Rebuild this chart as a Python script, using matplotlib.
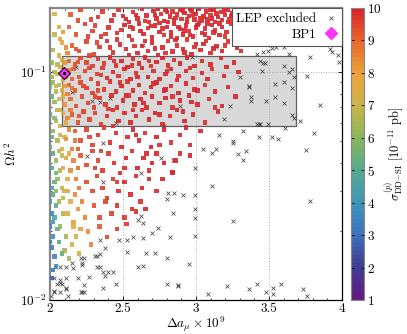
import numpy as np
import matplotlib
matplotlib.use("Agg")
import matplotlib.pyplot as plt
from matplotlib.colors import LinearSegmentedColormap
from matplotlib.patches import Rectangle
from matplotlib.ticker import MultipleLocator, LogLocator, NullFormatter

plt.rcParams['font.family'] = 'serif'
plt.rcParams['font.serif'] = ['cmr10', 'DejaVu Serif']
plt.rcParams['mathtext.fontset'] = 'cm'
plt.rcParams['axes.formatter.use_mathtext'] = True
plt.rcParams['axes.unicode_minus'] = False

# ---------------- data (x = Delta a_mu * 1e9, y = Omega h^2, c = sigma) ----------------
red_top = [
    (2.14,0.179,9.2),(2.21,0.187,9.4),(2.28,0.170,9.6),(2.36,0.184,9.7),(2.42,0.168,9.8),(2.47,0.188,9.8),(2.33,0.174,9.7),(2.50,0.176,9.9),
    (2.54,0.166,9.9),(2.57,0.183,9.8),(2.60,0.172,9.9),(2.63,0.189,9.8),(2.66,0.177,9.9),(2.68,0.166,9.8),(2.71,0.185,9.9),(2.73,0.172,9.9),
    (2.76,0.180,9.8),(2.78,0.167,9.9),(2.79,0.188,9.9),(2.74,0.190,9.9),
    (2.82,0.175,9.9),(2.84,0.184,9.8),(2.85,0.168,9.9),(2.87,0.179,9.9),(2.89,0.188,9.9),(2.90,0.171,9.8),(2.92,0.182,9.9),(2.94,0.166,9.9),
    (2.95,0.176,9.9),(2.97,0.186,9.8),(2.99,0.170,9.9),(3.00,0.180,9.9),(3.02,0.189,9.9),(3.04,0.167,9.8),(3.05,0.175,9.9),(3.07,0.184,9.9),
    (3.08,0.170,9.9),(3.10,0.178,9.8),(3.12,0.188,9.9),(3.13,0.166,9.9),(3.15,0.174,9.9),(3.17,0.183,9.8),(3.18,0.169,9.9),(3.20,0.178,9.9),
    (3.22,0.187,9.9),(3.23,0.171,9.8),(3.25,0.181,9.9),(3.26,0.167,9.9),(2.96,0.190,9.9),(3.11,0.172,9.9),
    (2.13,0.158,9.1),(2.18,0.146,9.3),(2.24,0.162,9.5),(2.29,0.151,9.6),(2.35,0.143,9.7),(2.40,0.157,9.8),(2.46,0.148,9.8),(2.51,0.161,9.9),
    (2.54,0.144,9.9),(2.57,0.155,9.8),(2.61,0.163,9.9),(2.64,0.147,9.9),(2.67,0.156,9.8),(2.70,0.142,9.9),(2.72,0.160,9.9),(2.75,0.150,9.9),
    (2.78,0.145,9.8),(2.80,0.158,9.9),(2.83,0.149,9.9),(2.85,0.162,9.9),(2.87,0.141,9.8),(2.89,0.154,9.9),(2.91,0.146,9.9),(2.93,0.160,9.9),
    (2.95,0.151,9.8),(2.98,0.143,9.9),(3.00,0.157,9.9),(3.02,0.164,9.9),(3.04,0.148,9.8),(3.06,0.155,9.9),(3.09,0.141,9.9),(3.11,0.161,9.9),
    (3.13,0.152,9.8),(3.16,0.145,9.9),(3.18,0.158,9.9),(3.21,0.150,9.9),(3.24,0.163,9.8),(3.27,0.144,9.9),(3.30,0.155,9.9),
    (2.15,0.131,9.2),(2.20,0.124,9.4),(2.25,0.136,9.5),(2.30,0.120,9.6),(2.34,0.129,9.7),(2.39,0.137,9.8),(2.43,0.122,9.8),(2.48,0.132,9.9),
    (2.52,0.126,9.9),(2.56,0.138,9.8),(2.60,0.121,9.9),(2.63,0.130,9.9),(2.67,0.124,9.8),(2.70,0.135,9.9),(2.74,0.119,9.9),(2.77,0.128,9.9),
    (2.81,0.137,9.8),(2.84,0.123,9.9),(2.87,0.131,9.9),(2.91,0.126,9.9),(2.94,0.139,9.8),(2.97,0.120,9.9),(3.00,0.133,9.9),(3.03,0.125,9.9),
    (3.07,0.137,9.8),(3.10,0.121,9.9),(3.14,0.130,9.9),(3.18,0.124,9.9),(3.22,0.136,9.8),(3.28,0.128,9.9),(3.35,0.138,9.9),(3.40,0.134,9.9),
    (3.44,0.136,9.8),(3.48,0.133,9.9),(3.53,0.137,9.9),(3.57,0.132,9.9),(3.62,0.135,9.8),(3.67,0.139,9.9),(3.72,0.136,9.9),
]

red_top_extra = [
    (2.52,0.171,9.9),(2.55,0.158,9.8),(2.59,0.178,9.9),(2.62,0.151,9.9),(2.65,0.167,9.8),(2.69,0.159,9.9),(2.72,0.178,9.9),(2.75,0.164,9.9),
    (2.77,0.155,9.8),(2.80,0.183,9.9),(2.81,0.166,9.9),(2.83,0.143,9.9),(2.86,0.173,9.8),(2.88,0.158,9.9),(2.91,0.186,9.9),(2.92,0.152,9.9),
    (2.94,0.171,9.8),(2.96,0.145,9.9),(2.98,0.179,9.9),(3.01,0.161,9.9),(3.03,0.172,9.8),(3.06,0.146,9.9),(3.08,0.163,9.9),(3.10,0.187,9.9),
    (3.12,0.149,9.8),(3.14,0.181,9.9),(3.16,0.163,9.9),(3.19,0.186,9.9),(3.20,0.143,9.8),(3.22,0.166,9.9),(3.24,0.176,9.9),(3.26,0.154,9.9),
    (2.31,0.160,9.6),(2.38,0.147,9.7),(2.44,0.178,9.8),(2.49,0.153,9.8),(2.19,0.168,9.4),(2.26,0.143,9.5),
    (2.18,0.126,9.3),(2.27,0.118,9.5),(2.32,0.135,9.6),(2.41,0.128,9.8),(2.46,0.139,9.8),(2.54,0.119,9.9),(2.58,0.130,9.8),(2.65,0.137,9.9),
    (2.72,0.127,9.9),(2.79,0.121,9.8),(2.86,0.138,9.9),(2.92,0.122,9.9),(2.99,0.129,9.8),(3.05,0.133,9.9),(3.12,0.127,9.9),(3.20,0.131,9.8),
    (3.31,0.124,9.9),
]

red_box = [
    (2.13,0.112,9.0),(2.17,0.108,9.3),(2.21,0.115,9.4),(2.25,0.110,9.5),(2.29,0.106,9.6),(2.33,0.114,9.7),(2.37,0.109,9.7),(2.41,0.116,9.8),
    (2.45,0.107,9.8),(2.49,0.112,9.9),(2.53,0.105,9.9),(2.57,0.114,9.8),(2.61,0.109,9.9),(2.65,0.116,9.9),(2.69,0.106,9.8),(2.73,0.111,9.9),
    (2.77,0.115,9.9),(2.81,0.107,9.9),(2.85,0.113,9.8),(2.89,0.109,9.9),(2.94,0.116,9.9),(2.99,0.106,9.9),(3.04,0.112,9.8),(3.10,0.108,9.9),
    (3.17,0.115,9.9),(3.26,0.110,9.9),
    (2.12,0.099,8.9),(2.16,0.103,9.2),(2.20,0.095,9.3),(2.24,0.101,9.5),(2.28,0.093,9.6),(2.32,0.098,9.6),(2.36,0.104,9.7),(2.39,0.094,9.8),
    (2.43,0.100,9.8),(2.47,0.096,9.8),(2.51,0.103,9.9),(2.55,0.093,9.9),(2.59,0.099,9.8),(2.63,0.104,9.9),(2.67,0.095,9.9),(2.71,0.101,9.8),
    (2.75,0.093,9.9),(2.79,0.098,9.9),(2.83,0.103,9.9),(2.88,0.096,9.8),(2.93,0.101,9.9),(2.98,0.094,9.9),(3.04,0.099,9.9),(3.11,0.103,9.8),
    (3.19,0.096,9.9),(3.29,0.100,9.9),
    (2.13,0.088,9.0),(2.17,0.083,9.2),(2.21,0.090,9.4),(2.25,0.085,9.5),(2.29,0.081,9.6),(2.33,0.089,9.7),(2.37,0.084,9.7),(2.41,0.091,9.8),
    (2.45,0.082,9.8),(2.49,0.087,9.9),(2.53,0.091,9.8),(2.57,0.083,9.9),(2.61,0.088,9.9),(2.65,0.081,9.8),(2.69,0.086,9.9),(2.73,0.090,9.9),
    (2.78,0.083,9.9),(2.83,0.087,9.8),(2.88,0.081,9.9),(2.93,0.089,9.9),(2.99,0.084,9.9),(3.06,0.088,9.8),(3.13,0.082,9.9),(3.22,0.086,9.9),
    (2.14,0.076,9.1),(2.18,0.071,9.3),(2.22,0.078,9.4),(2.26,0.073,9.5),(2.30,0.070,9.6),(2.34,0.077,9.7),(2.38,0.072,9.7),(2.42,0.079,9.8),
    (2.46,0.070,9.8),(2.50,0.075,9.9),(2.54,0.079,9.8),(2.58,0.072,9.9),(2.62,0.076,9.9),(2.66,0.070,9.8),(2.70,0.078,9.9),(2.75,0.073,9.9),
    (2.79,0.077,9.9),(2.84,0.070,9.8),(2.89,0.075,9.9),(2.95,0.079,9.9),(3.01,0.072,9.9),(3.09,0.076,9.8),(3.18,0.071,9.9),
    (2.15,0.065,9.2),(2.19,0.060,9.3),(2.23,0.067,9.5),(2.27,0.062,9.6),(2.31,0.066,9.6),(2.35,0.059,9.7),(2.39,0.064,9.8),(2.43,0.068,9.8),
    (2.47,0.061,9.9),(2.51,0.066,9.8),(2.55,0.060,9.9),(2.59,0.064,9.9),(2.63,0.068,9.8),(2.68,0.062,9.9),(2.72,0.066,9.9),(2.77,0.059,9.9),
    (2.82,0.064,9.8),(2.87,0.068,9.9),(2.92,0.061,9.9),(2.98,0.065,9.9),(3.06,0.060,9.8),(3.15,0.067,9.9),
]

red_box_extra = [
    (2.15,0.093,9.1),(2.19,0.111,9.3),(2.23,0.087,9.4),(2.27,0.104,9.5),(2.31,0.078,9.6),(2.35,0.097,9.7),(2.40,0.069,9.7),(2.44,0.112,9.8),
    (2.48,0.090,9.8),(2.52,0.079,9.9),(2.56,0.107,9.8),(2.60,0.095,9.9),(2.64,0.073,9.9),(2.68,0.112,9.8),(2.71,0.089,9.9),(2.75,0.065,9.9),
    (2.80,0.101,9.9),(2.84,0.078,9.8),(2.87,0.092,9.9),(2.91,0.067,9.9),(2.96,0.104,9.8),(3.01,0.083,9.9),(3.08,0.093,9.9),(3.13,0.070,9.8),
    (3.21,0.105,9.9),(3.27,0.078,9.9),(2.20,0.064,9.3),(2.33,0.083,9.6),(2.57,0.068,9.8),(2.79,0.084,9.9),(2.97,0.074,9.9),
]

red_low = [
    (2.17,0.055,9.2),(2.21,0.050,9.4),(2.25,0.056,9.5),(2.29,0.048,9.6),(2.33,0.053,9.7),(2.37,0.057,9.7),(2.41,0.049,9.8),(2.45,0.054,9.8),
    (2.49,0.047,9.9),(2.53,0.052,9.8),(2.57,0.056,9.9),(2.61,0.050,9.9),(2.65,0.054,9.8),(2.69,0.047,9.9),(2.73,0.052,9.9),(2.78,0.056,9.9),
    (2.83,0.049,9.8),(2.89,0.053,9.9),(2.96,0.048,9.9),(3.03,0.055,9.9),
    (2.21,0.043,9.2),(2.25,0.039,9.4),(2.29,0.045,9.5),(2.33,0.041,9.6),(2.36,0.037,9.7),(2.40,0.044,9.7),(2.44,0.040,9.8),(2.48,0.036,9.8),
    (2.52,0.042,9.9),(2.56,0.045,9.8),(2.60,0.038,9.9),(2.64,0.042,9.9),(2.68,0.037,9.8),(2.73,0.044,9.9),(2.78,0.040,9.9),(2.84,0.036,9.9),
    (2.89,0.044,9.8),(2.96,0.043,9.9),
    (2.25,0.033,9.3),(2.29,0.030,9.4),(2.32,0.035,9.5),(2.36,0.031,9.6),(2.39,0.028,9.7),(2.43,0.034,9.7),(2.47,0.030,9.8),(2.51,0.033,9.8),
    (2.55,0.029,9.9),(2.59,0.035,9.8),(2.63,0.031,9.9),(2.68,0.034,9.9),(2.73,0.030,9.8),(2.77,0.034,9.9),(2.84,0.0365,9.9),
    (2.30,0.026,9.3),(2.34,0.023,9.4),(2.38,0.027,9.5),(2.42,0.024,9.6),(2.46,0.026,9.7),(2.51,0.023,9.7),(2.56,0.025,9.8),(2.59,0.0244,9.8),
    (2.655,0.025,9.9),(2.34,0.021,9.2),(2.39,0.0189,9.4),(2.457,0.0205,9.6),(2.525,0.0216,9.7),
    (2.19,0.046,9.2),(2.27,0.052,9.5),(2.35,0.045,9.6),(2.43,0.058,9.8),(2.51,0.038,9.8),(2.59,0.053,9.9),(2.66,0.044,9.9),(2.75,0.048,9.8),
    (2.86,0.041,9.9),(2.93,0.057,9.9),(2.31,0.038,9.5),(2.46,0.033,9.7),(2.62,0.027,9.8),(2.70,0.040,9.9),
]

orange_pts = [
    (2.09,0.150,8.2),(2.11,0.128,8.4),(2.12,0.121,8.5),(2.10,0.110,8.3),(2.11,0.095,8.5),(2.10,0.087,8.2),(2.12,0.080,8.6),(2.10,0.072,8.3),
    (2.12,0.063,8.5),(2.13,0.056,8.6),(2.11,0.051,8.3),(2.15,0.046,8.7),(2.16,0.041,8.5),(2.14,0.037,8.4),(2.18,0.034,8.7),(2.20,0.031,8.8),
    (2.17,0.029,8.4),(2.22,0.027,8.7),(2.19,0.025,8.3),(2.24,0.023,8.5),(2.26,0.020,8.4),(2.28,0.0175,8.6),(2.16,0.022,8.0),(2.21,0.0205,8.1),
    (2.14,0.068,8.7),(2.13,0.102,8.6),(2.15,0.085,8.8),(2.17,0.050,8.8),(2.19,0.038,8.9),(2.07,0.140,8.0),
]

yellow_pts = [
    (2.03,0.180,7.2),(2.06,0.158,7.4),(2.08,0.135,7.6),(2.06,0.118,7.3),(2.07,0.105,7.5),(2.09,0.092,7.7),(2.08,0.083,7.4),(2.06,0.076,7.2),
    (2.09,0.066,7.6),(2.07,0.058,7.3),(2.10,0.052,7.7),(2.08,0.046,7.4),(2.11,0.042,7.6),(2.09,0.038,7.3),(2.12,0.034,7.7),(2.10,0.030,7.4),
    (2.14,0.027,7.6),(2.12,0.024,7.3),(2.16,0.021,7.5),(2.18,0.019,7.6),(2.15,0.0175,7.1),(2.20,0.016,7.3),(2.05,0.098,7.0),(2.08,0.113,7.2),
    (2.09,0.078,7.6),(2.07,0.068,7.1),(2.11,0.060,7.8),(2.13,0.044,7.8),(2.12,0.030,7.2),(2.04,0.087,7.0),
]

green_pts = [
    (2.02,0.125,6.4),(2.01,0.110,6.2),(2.03,0.100,6.5),(2.02,0.090,6.3),(2.04,0.082,6.6),(2.03,0.074,6.2),(2.05,0.068,6.7),(2.04,0.061,6.4),
    (2.02,0.055,6.0),(2.05,0.050,6.5),(2.06,0.045,6.7),(2.04,0.041,6.2),(2.07,0.037,6.6),(2.05,0.034,6.1),(2.08,0.031,6.8),(2.06,0.027,6.3),
    (2.09,0.024,6.6),(2.07,0.021,6.2),(2.11,0.019,6.5),(2.10,0.0165,6.3),(2.13,0.0152,6.6),(2.03,0.146,6.8),(2.01,0.095,6.0),(2.06,0.088,6.8),
    (2.05,0.108,6.7),(2.03,0.063,6.1),(2.07,0.053,6.9),(2.08,0.043,6.9),(2.04,0.030,6.0),(2.09,0.028,6.9),
]

blue_pts = [
    (2.01,0.078,5.3),(2.00,0.065,5.0),(2.01,0.052,5.2),(2.02,0.044,5.0),(2.01,0.038,4.8),(2.03,0.033,5.2),(2.02,0.029,4.9),(2.04,0.026,5.1),
    (2.03,0.023,4.7),(2.05,0.0205,5.0),(2.06,0.018,4.9),(2.08,0.016,5.2),(2.00,0.086,5.5),(2.00,0.047,5.4),(2.04,0.036,5.5),(2.01,0.031,4.6),
    (2.00,0.027,4.0),(2.01,0.024,3.7),(2.00,0.021,3.6),(2.02,0.019,3.8),(2.01,0.017,3.4),(2.03,0.0155,3.6),(2.04,0.014,3.5),(2.02,0.0135,3.0),
    (2.01,0.0125,2.7),(2.00,0.0180,3.3),(2.02,0.022,4.1),
]

lep_pts = [
    (3.14,0.129),(3.42,0.120),(3.46,0.122),(3.49,0.124),(3.52,0.127),(3.55,0.129),(3.60,0.129),(3.64,0.120),(3.78,0.116),(3.92,0.126),
    (3.93,0.122),(3.97,0.119),(3.98,0.111),(3.44,0.112),(3.46,0.110),(3.47,0.110),(3.45,0.101),(3.60,0.106),(3.64,0.100),(3.66,0.103),
    (3.67,0.095),(3.76,0.096),(3.60,0.090),(3.54,0.089),(3.66,0.085),(3.30,0.095),(3.36,0.087),(3.365,0.086),(3.38,0.078),(3.38,0.075),
    (3.48,0.075),(3.54,0.078),(3.60,0.073),(3.66,0.065),(3.67,0.063),(3.71,0.061),(3.85,0.072),(3.23,0.071),(3.19,0.062),(3.42,0.059),
    (3.43,0.059),(3.44,0.059),(3.49,0.059),(3.61,0.057),(3.16,0.053),(3.32,0.055),(3.43,0.052),(3.56,0.051),(3.52,0.052),(3.25,0.049),
    (3.25,0.050),(3.81,0.054),(3.05,0.046),(3.14,0.046),
    (2.64,0.131),(2.97,0.116),(2.18,0.105),(2.15,0.082),(2.29,0.075),(2.34,0.074),(2.41,0.077),(2.89,0.071),(2.45,0.060),(2.78,0.058),
    (2.36,0.049),
    (2.25,0.043),(2.76,0.042),(2.84,0.041),(2.62,0.036),(2.36,0.033),(2.81,0.0295),(2.85,0.0295),(2.80,0.0277),(2.91,0.029),(2.84,0.0240),
    (2.62,0.0234),(2.60,0.0224),(2.64,0.0218),(2.74,0.0207),(2.70,0.0197),(2.57,0.0189),(2.64,0.0187),(2.82,0.0189),(2.47,0.0183),(2.53,0.0183),
    (2.38,0.0169),(2.34,0.0183),(2.53,0.0163),(2.60,0.0140),(2.64,0.0141),(2.80,0.0153),(2.72,0.0161),(2.66,0.0161),(2.95,0.0144),(2.21,0.0153),
    (2.22,0.0142),(2.22,0.0146),(2.31,0.0156),(2.32,0.0156),(2.34,0.0159),(2.15,0.0145),(2.11,0.0140),(2.07,0.0140),(2.32,0.0140),(2.34,0.0140),
    (2.36,0.0133),(2.38,0.0127),(2.40,0.0133),(2.43,0.0133),(2.27,0.0126),(2.19,0.0125),(2.11,0.0125),(2.03,0.0125),(2.07,0.0122),(2.05,0.0118),
    (2.07,0.0119),(2.08,0.0117),(2.11,0.0113),(2.11,0.0112),(2.03,0.0110),(2.03,0.0108),(2.07,0.0108),(2.12,0.0104),(2.23,0.0116),(2.21,0.0108),
    (2.22,0.0108),(2.23,0.0108),(2.36,0.0113),(2.45,0.0118),(2.80,0.0118),(2.88,0.0116),(2.88,0.0115),(2.01,0.0104),(2.23,0.0153),(2.16,0.0138),
    (3.11,0.0441),(3.29,0.0437),(3.34,0.0450),(3.32,0.0411),(3.75,0.0455),(3.11,0.0316),(3.78,0.0272),(3.25,0.0222),(3.21,0.0115),(3.08,0.0106),
    (3.36,0.0112),(3.42,0.0118),(3.48,0.0108),(3.53,0.0113),(3.53,0.0106),(3.58,0.0118),(3.73,0.0112),(3.76,0.0104),(2.99,0.038),(2.99,0.029),
    (2.99,0.025),(2.99,0.023),(2.99,0.019),
]

bp1_x, bp1_y = [2.096], [0.0995]
box_x = [2.08, 3.685]
box_y = [0.058, 0.1175]

x_ticks = [2, 2.5, 3, 3.5, 4]
c_ticks = [1, 2, 3, 4, 5, 6, 7, 8, 9, 10]

# ---------------- plotting ----------------
cmap_colors = ['#641a80', '#3f3e91', '#3f72bd', '#3e97b5', '#57aa90', '#8ab65b',
               '#c9b54a', '#eda43a', '#e8692d', '#d8232a']
cmap = LinearSegmentedColormap.from_list('custom', cmap_colors, N=72)

fig = plt.figure(figsize=(4.07, 3.34), dpi=100)
ax = fig.add_axes([0.1229, 0.1018, 0.7174, 0.8743])
cax = fig.add_axes([0.8625, 0.1018, 0.033, 0.8743])

ax.set_yscale('log')
ax.set_xlim(2, 4)
ax.set_ylim(0.01, 0.191)

rect = Rectangle((box_x[0], box_y[0]), box_x[1] - box_x[0], box_y[1] - box_y[0],
                 facecolor='#d9d9d9', edgecolor='#606060', lw=0.9, zorder=0.3)
ax.add_patch(rect)

ax.grid(True, which='major', linestyle=':', color='#b0b0b0', lw=0.7)
ax.set_axisbelow(True)

lx = [p[0] for p in lep_pts]
ly = [p[1] for p in lep_pts]
ax.scatter(lx, ly, marker='x', s=8, c='#444444', linewidths=0.55, zorder=2,
           label='LEP excluded')

allpts = blue_pts + green_pts + yellow_pts + orange_pts + red_low + red_box + red_box_extra + red_top + red_top_extra
cx = [p[0] for p in allpts]
cy = [p[1] for p in allpts]
cc = [p[2] for p in allpts]
sc = ax.scatter(cx, cy, c=cc, cmap=cmap, vmin=1, vmax=10, marker='s', s=10,
                linewidths=0, alpha=0.9, zorder=3)

ax.plot(bp1_x, bp1_y, marker='D', ms=6, mfc='#ff33ff', mec='black', mew=0.8,
        ls='none', zorder=5)
ax.plot(bp1_x, bp1_y, marker='o', ms=1.4, color='black', ls='none', zorder=6)
ax.plot([], [], marker='D', ms=6, mfc='#ff33ff', mec='#ff33ff', ls='none', label='BP1')

leg = ax.legend(loc='upper right', markerfirst=False, fontsize=9.5, frameon=True,
                fancybox=False, borderaxespad=0.0, handletextpad=0.6,
                borderpad=0.35, labelspacing=0.3, handlelength=1.0)
leg.get_frame().set_edgecolor('#555555')
leg.get_frame().set_linewidth(0.8)
leg.get_frame().set_alpha(1.0)

ax.set_xticks(x_ticks)
ax.set_xticklabels(['2', '2.5', '3', '3.5', '4'])
ax.xaxis.set_minor_locator(MultipleLocator(0.1))
ax.yaxis.set_major_locator(LogLocator(base=10, numticks=5))
ax.yaxis.set_minor_locator(LogLocator(base=10, subs=np.arange(2, 10), numticks=20))
ax.yaxis.set_minor_formatter(NullFormatter())
ax.tick_params(which='both', direction='in', top=True, right=True, labelsize=9.5)
ax.tick_params(which='major', length=3, width=0.6, pad=2)
ax.tick_params(which='minor', length=1.6, width=0.5)

for s in ['left', 'top']:
    ax.spines[s].set_color('#888888')
    ax.spines[s].set_linewidth(1.6)
for s in ['bottom', 'right']:
    ax.spines[s].set_color('black')
    ax.spines[s].set_linewidth(0.9)

ax.set_xlabel(r'$\Delta a_\mu \times 10^9$', fontsize=9.5, labelpad=0)
ax.set_ylabel(r'$\Omega h^2$', fontsize=9.5, labelpad=1)

cb = fig.colorbar(sc, cax=cax, ticks=c_ticks)
cb.solids.set_alpha(1.0)
cb.outline.set_edgecolor('#888888')
cb.outline.set_linewidth(0.8)
cax.tick_params(direction='in', length=2.5, width=0.6, labelsize=9.5, left=True, right=True, pad=2)
cb.set_label(r'$\sigma^{(p)}_{\mathrm{DD\!-\!SI}}\ [10^{-11}\ \mathrm{pb}]$', fontsize=9, labelpad=0)

fig.savefig('out.png', dpi=100)
